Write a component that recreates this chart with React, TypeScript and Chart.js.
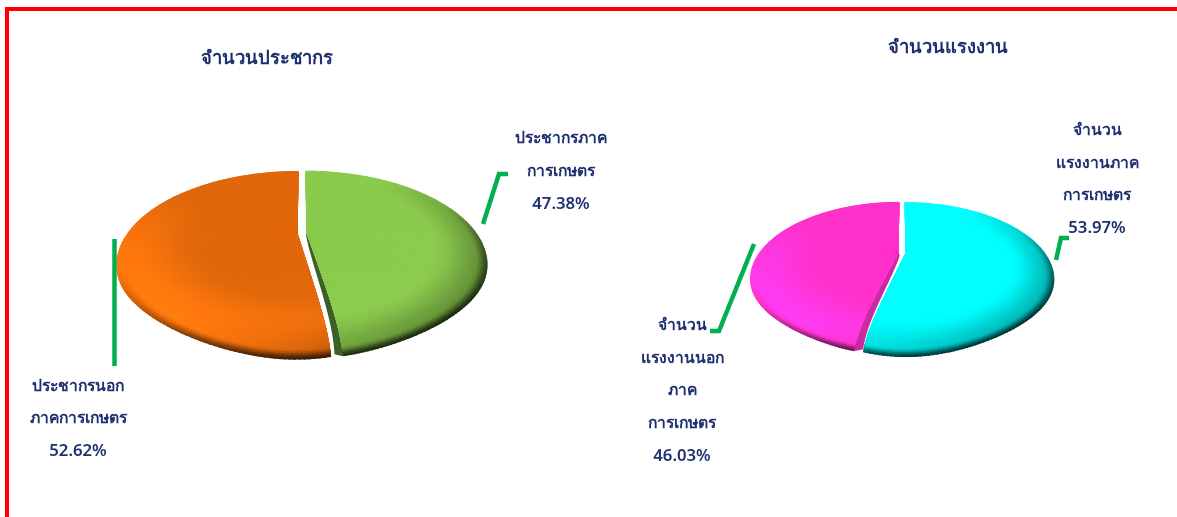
import React, { useEffect, useRef } from "react";
import { Chart, registerables } from "chart.js";

Chart.register(...registerables);

const populationTitle = "จำนวนประชากร";
const populationValues = [47.38, 52.62];
const populationLabels = [
  ["ประชากรภาค", "การเกษตร"],
  ["ประชากรนอก", "ภาคการเกษตร"],
];
const laborTitle = "จำนวนแรงงาน";
const laborValues = [53.97, 46.03];
const laborLabels = [
  ["จำนวน", "แรงงานภาค", "การเกษตร"],
  ["จำนวน", "แรงงานนอก", "ภาค", "การเกษตร"],
];

const NAVY = "#1F3070";
const LEADER = "#00B050";
const FONT = '"Noto Sans", "Open Sans", sans-serif';

type RGB = [number, number, number];
const smooth = (a: number, b: number, x: number) => {
  const t = Math.min(1, Math.max(0, (x - a) / (b - a)));
  return t * t * (3 - 2 * t);
};

const K = 0.34;
const SY = 0.49;
const SHRINK = 0.18;

function project(el: any, dx: number, dy: number): [number, number] {
  const v = dy / el.outerRadius;
  const w = 1 - K * v;
  const s = 1 - SHRINK * Math.pow(Math.max(0, v), 5);
  return [el.x + (dx / w) * s, el.y + (dy * SY) / w];
}

function shade(base: RGB, litAmount: number, rho: number, th: number): string {
  const c = Math.cos(th);
  const s = Math.sin(th);
  const lit = 1 + litAmount * smooth(0.55, 0.95, rho) * Math.max(0, -0.5 * c + 0.85 * s);
  const right = 1 - 0.3 * smooth(0.72, 1, rho) * Math.max(0, 0.8 * c + 0.6 * s);
  const rim = 1 - 0.72 * smooth(0.94, 1, rho) * Math.min(1, Math.max(0, s + 0.4 * c));
  const f = lit * right * rim;
  return `rgb(${base.map((b) => Math.min(255, Math.round(b * f))).join(",")})`;
}

const pie3d = {
  id: "pie3d",
  beforeDatasetDraw(chart: any, args: any, opts: any) {
    const ctx = chart.ctx as CanvasRenderingContext2D;
    const els = args.meta.data;
    els.forEach((el: any, i: number) => {
      const o = el.options.offset;
      const mid = (el.startAngle + el.endAngle) / 2;
      const ox = o * Math.cos(mid);
      const oy = o * Math.sin(mid);
      const R = el.outerRadius;
      const at = (rho: number, th: number) => project(el, ox + rho * R * Math.cos(th), oy + rho * R * Math.sin(th));
      if (opts.wall && opts.wall.index === i) {
        const th = opts.wall.side < 0 ? el.endAngle : el.startAngle;
        ctx.beginPath();
        const n = 30;
        for (let j = 0; j <= n; j++) {
          const p = at(j / n, th);
          j ? ctx.lineTo(p[0], p[1]) : ctx.moveTo(p[0], p[1]);
        }
        for (let j = n; j >= 0; j--) {
          const t = j / n;
          const p = at(t, th);
          ctx.lineTo(p[0] + opts.wall.side * opts.wall.width * Math.pow(t, opts.wall.power), p[1] - 2 * t);
        }
        ctx.closePath();
        ctx.fillStyle = opts.wall.color;
        ctx.fill();
      }
    });
    els.forEach((el: any, i: number) => {
      const base: RGB = opts.colors[i];
      const o = el.options.offset;
      const mid = (el.startAngle + el.endAngle) / 2;
      const ox = o * Math.cos(mid);
      const oy = o * Math.sin(mid);
      const R = el.outerRadius;
      const at = (rho: number, th: number) => project(el, ox + rho * R * Math.cos(th), oy + rho * R * Math.sin(th));
      const rings = 90;
      const cells = 140;
      const span = el.endAngle - el.startAngle;
      const overlap = (span / cells) * 0.6;
      for (let r = rings - 1; r >= 0; r--) {
        const r0 = Math.max(0, r / rings - 0.06);
        const r1 = (r + 1) / rings;
        for (let a = 0; a < cells; a++) {
          const t0 = el.startAngle + (span * a) / cells;
          const t1 = Math.min(el.endAngle, el.startAngle + (span * (a + 1)) / cells + overlap);
          const col = shade(base, opts.lit[i], r1 - 0.5 / rings, el.startAngle + (span * (a + 0.5)) / cells);
          const pts = [at(r0, t0), at(r1, t0), at(r1, t1), at(r0, t1)];
          ctx.beginPath();
          ctx.moveTo(pts[0][0], pts[0][1]);
          for (let q = 1; q < 4; q++) ctx.lineTo(pts[q][0], pts[q][1]);
          ctx.closePath();
          ctx.fillStyle = col;
          ctx.fill();
        }
      }
    });
    return false;
  },
  afterDraw(chart: any, _args: any, opts: any) {
    const ctx = chart.ctx as CanvasRenderingContext2D;
    ctx.save();
    ctx.strokeStyle = LEADER;
    ctx.lineWidth = 4.5;
    ctx.lineJoin = "miter";
    (opts.leaders || []).forEach((line: number[][]) => {
      ctx.beginPath();
      line.forEach((p, j) => (j ? ctx.lineTo(p[0], p[1]) : ctx.moveTo(p[0], p[1])));
      ctx.stroke();
    });
    ctx.fillStyle = NAVY;
    ctx.textAlign = "center";
    ctx.textBaseline = "middle";
    ctx.font = `bold ${opts.titleSize}px ${FONT}`;
    ctx.fillText(opts.title, opts.titlePos[0], opts.titlePos[1]);
    (opts.labelBlocks || []).forEach((b: any) => {
      b.lines.forEach((t: string, j: number) => {
        const isPct = t.endsWith("%");
        ctx.font = isPct ? `600 ${opts.labelSize + 1}px ${FONT}` : `bold ${opts.labelSize}px ${FONT}`;
        ctx.fillText(t, b.x, b.y + j * b.gap);
      });
    });
    ctx.restore();
  },
};

function makeChart(canvas: HTMLCanvasElement, values: number[], radius: number, offset: number, padding: any, plug: any) {
  return new Chart(canvas, {
    type: "pie",
    data: { labels: plug.names, datasets: [{ data: values, radius, offset, borderWidth: 0 } as any] },
    options: {
      responsive: false,
      animation: false,
      events: [],
      layout: { padding },
      plugins: { legend: { display: false }, tooltip: { enabled: false }, pie3d: plug } as any,
    },
    plugins: [pie3d],
  } as any);
}

const pct = (v: number) => `${v.toFixed(2)}%`;

export default function App() {
  const a = useRef<HTMLCanvasElement>(null);
  const b = useRef<HTMLCanvasElement>(null);
  useEffect(() => {
    const c1 = makeChart(a.current!, populationValues, 170, 4.5, { right: 573, bottom: 51 }, {
      names: populationLabels.map((l) => l.join("")),
      colors: [[140, 203, 78], [224, 105, 12]],
      lit: [0.03, 0.2],
      wall: { index: 0, side: -1, width: 8, power: 0.55, color: "#3F5F28" },
      title: populationTitle,
      titlePos: [267, 59],
      titleSize: 18.4,
      labelSize: 15.7,
      leaders: [
        [[114.5, 239], [114.5, 366]],
        [[483, 224], [499, 174], [508, 174]],
      ],
      labelBlocks: [
        { lines: [...populationLabels[0], pct(populationValues[0])], x: 561, y: 139, gap: 32.5 },
        { lines: [...populationLabels[1], pct(populationValues[1])], x: 78, y: 387, gap: 32 },
      ],
    });
    const c2 = makeChart(b.current!, laborValues, 139.5, 3.5, { left: 627, bottom: 11 }, {
      names: laborLabels.map((l) => l.join("")),
      colors: [[0, 255, 255], [255, 51, 204]],
      lit: [0, 0.2],
      wall: { index: 1, side: 1, width: 9, power: 0.4, color: "#CC2AA3" },
      title: laborTitle,
      titlePos: [948, 48],
      titleSize: 18.4,
      labelSize: 15.7,
      leaders: [
        [[1056, 260], [1061, 238], [1069, 238]],
        [[754, 244], [719, 331], [710, 331]],
      ],
      labelBlocks: [
        { lines: [...laborLabels[0], pct(laborValues[0])], x: 1097, y: 131, gap: 32.5 },
        { lines: [...laborLabels[1], pct(laborValues[1])], x: 682, y: 326, gap: 32.5 },
      ],
    });
    return () => {
      c1.destroy();
      c2.destroy();
    };
  }, []);
  const cs: React.CSSProperties = { position: "absolute", left: 0, top: 0 };
  return (
    <div style={{ position: "fixed", left: 0, top: 0, width: 1177, height: 517, overflow: "hidden", background: "#fff" }}>
      <div style={{ position: "absolute", left: 5, top: 7, width: 1300, height: 600, borderTop: "4px solid #FF0000", borderLeft: "4px solid #FF0000" }} />
      <canvas ref={a} width={1177} height={517} style={cs} />
      <canvas ref={b} width={1177} height={517} style={cs} />
    </div>
  );
}
